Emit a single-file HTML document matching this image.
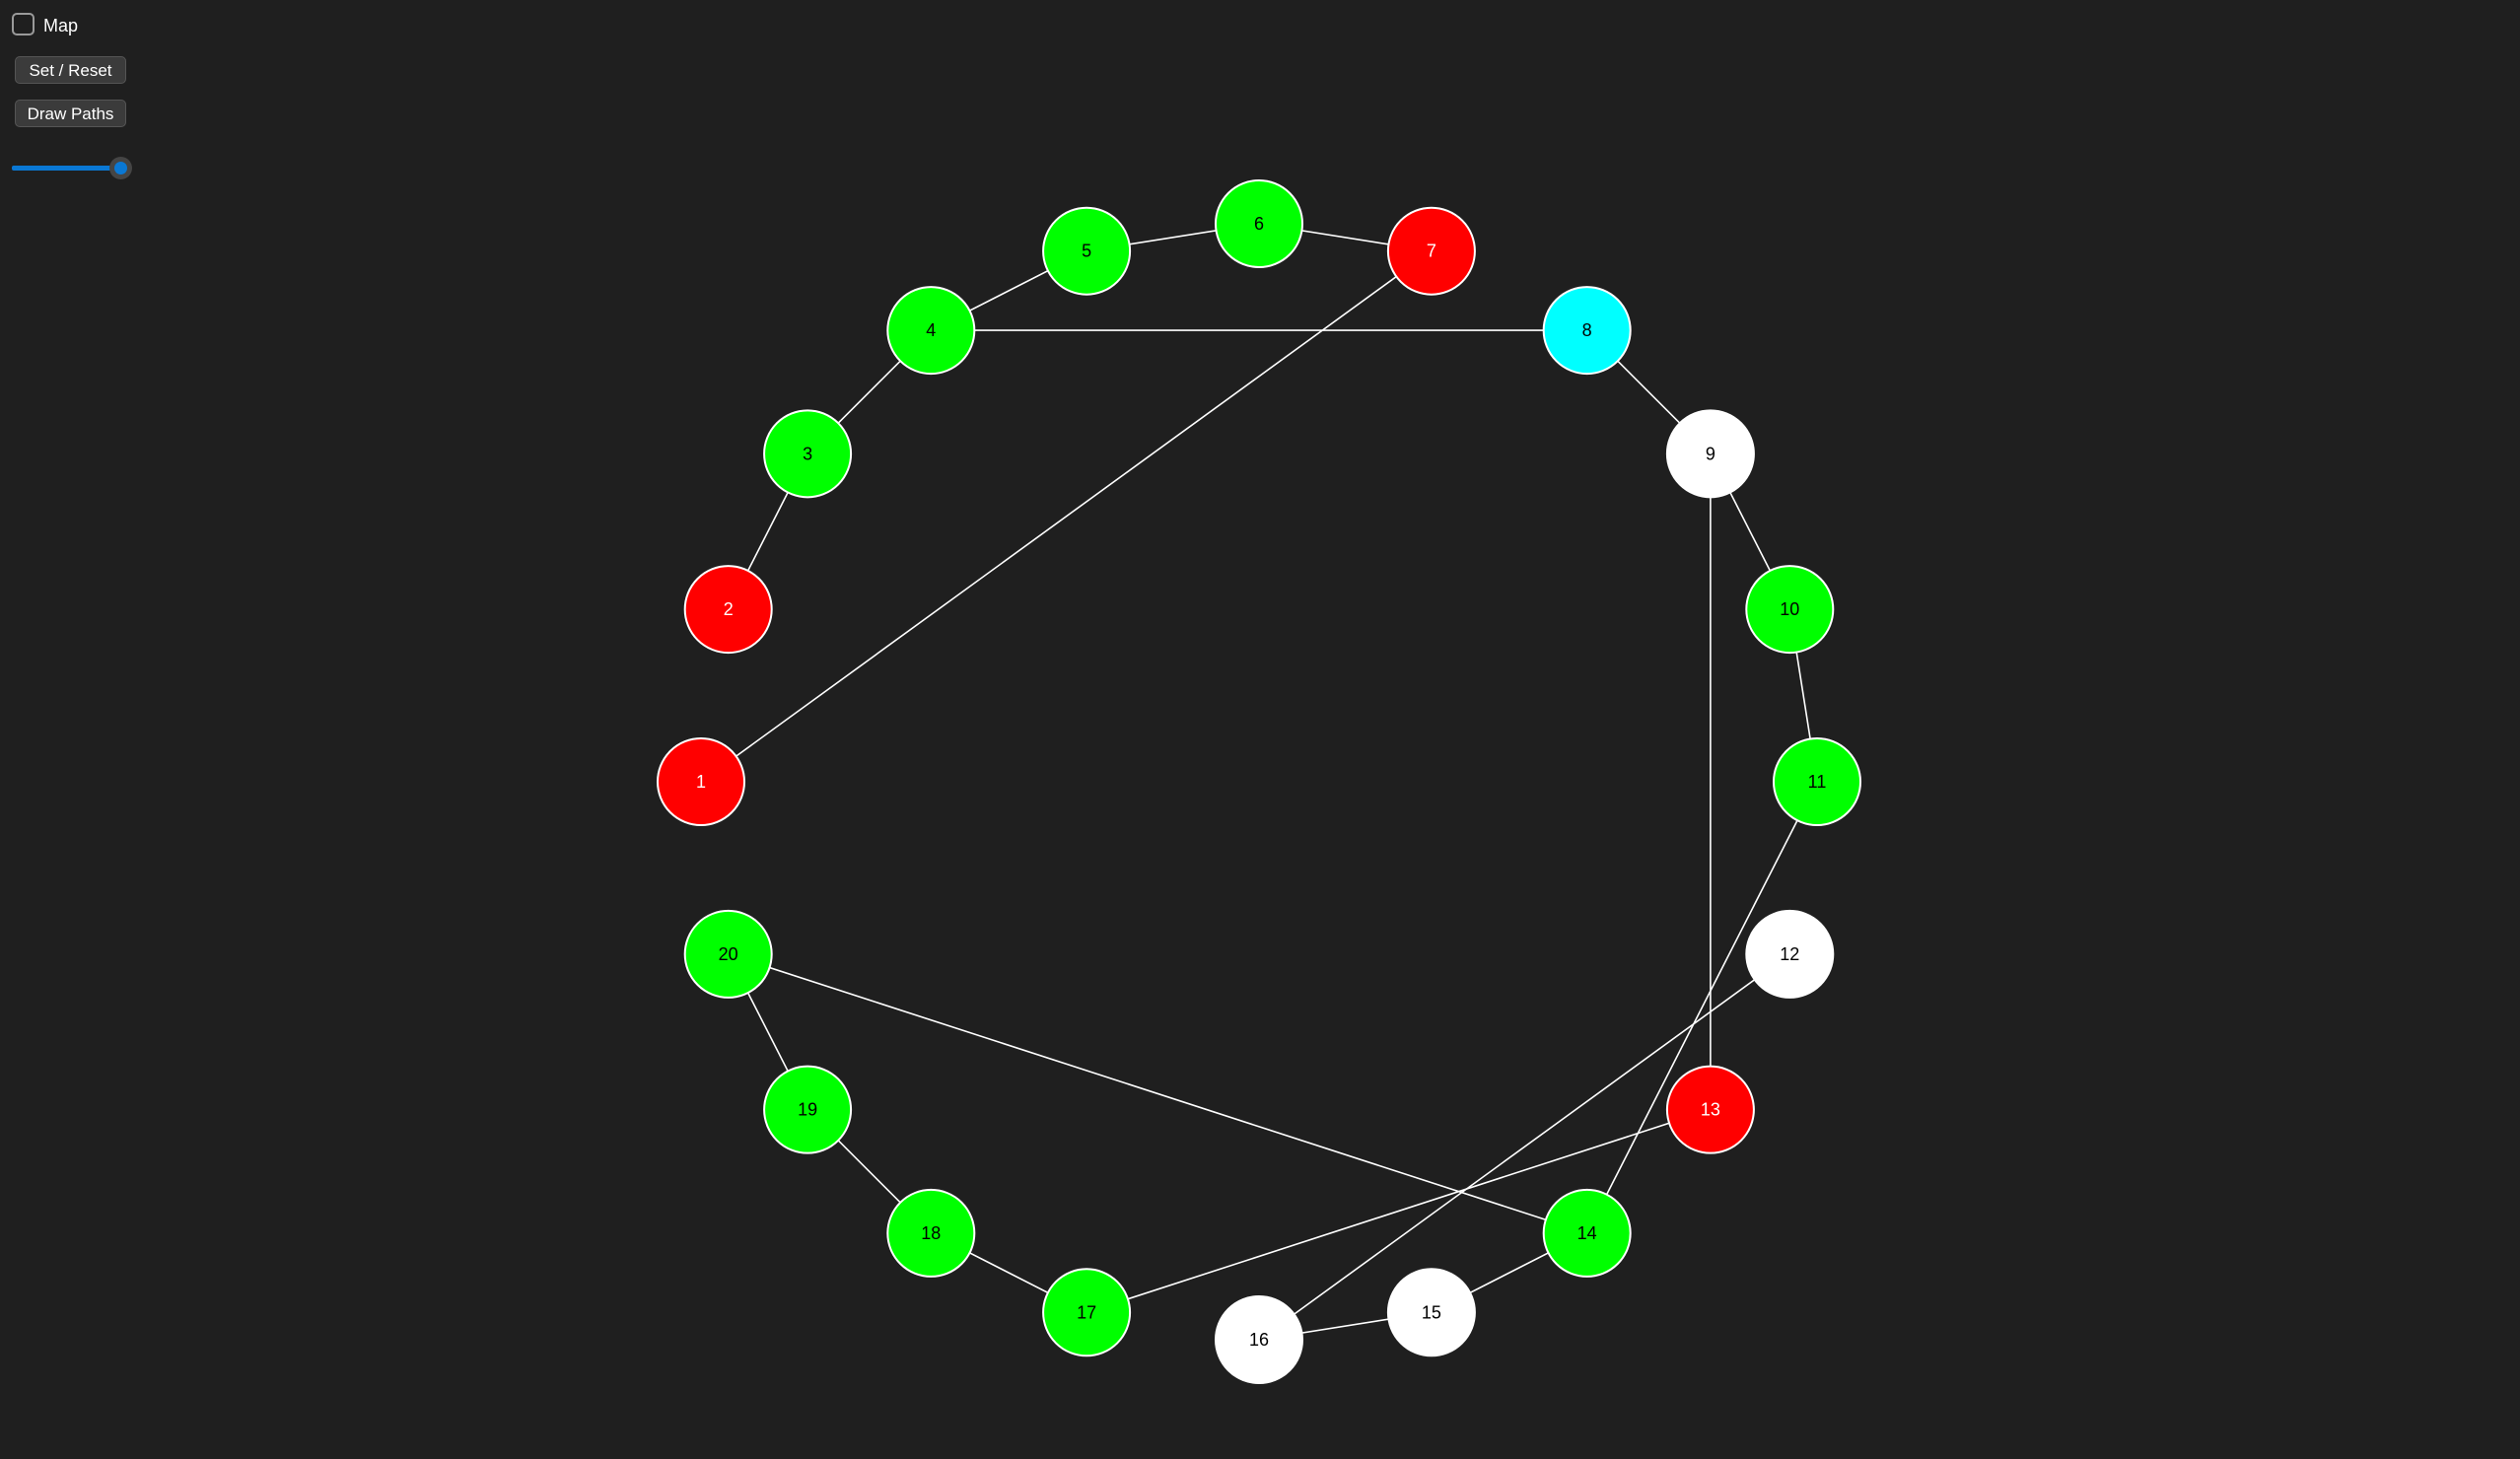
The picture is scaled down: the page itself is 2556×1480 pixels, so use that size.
<!DOCTYPE html>
<html><head><meta charset="utf-8"><style>
html,body{margin:0;padding:0;background:#1f1f1f;width:2556px;height:1480px;overflow:hidden;font-family:"Liberation Sans",sans-serif}
.btn{position:absolute;left:15px;width:113px;height:28px;background:#3b3b3b;border:1px solid #555;border-radius:5px;color:#fff;font-size:17px;line-height:28px;text-align:center;box-sizing:border-box}
</style></head><body>
<div style="position:absolute;left:12px;top:13px;width:23px;height:23px;border:2px solid #9a9a9a;border-radius:5px;box-sizing:border-box"></div>
<div style="position:absolute;left:44px;top:16px;color:#fff;font-size:18px">Map</div>
<div class="btn" style="top:57px">Set / Reset</div>
<div class="btn" style="top:101px">Draw Paths</div>
<div style="position:absolute;left:12px;top:160px;width:125px;height:22px">
  <div style="position:absolute;left:0;top:8px;width:110px;height:5px;background:#0a78d4;border-radius:2px"></div>
  <div style="position:absolute;left:99px;top:-1px;width:23px;height:23px;border-radius:50%;background:#454545"></div>
  <div style="position:absolute;left:104px;top:4px;width:13px;height:13px;border-radius:50%;background:#0a78d4"></div>
</div>
<svg id="g" width="2556" height="1480" style="position:absolute;left:0;top:0"></svg>
<script>
const nodeIds=[1,2,3,4,5,6,7,8,9,10,11,12,13,14,15,16,17,18,19,20];
const nodeColors=["red","red","green","green","green","green","red","cyan","white","green","green","white","red","green","white","white","green","green","green","green"];
const edges=[[1,7],[2,3],[3,4],[4,5],[5,6],[6,7],[4,8],[8,9],[9,10],[9,13],[10,11],[11,14],[12,16],[13,17],[14,15],[15,16],[14,20],[17,18],[18,19],[19,20]];
const cx=1277,cy=793,R=566,nr=44;
const fill={red:"#ff0000",green:"#00ff00",cyan:"#00ffff",white:"#ffffff"};
function pos(id){const a=(180+18*(id-1))*Math.PI/180;return [cx+R*Math.cos(a),cy+R*Math.sin(a)];}
const svg=document.getElementById('g');const NS="http://www.w3.org/2000/svg";
edges.forEach(e=>{const [x1,y1]=pos(e[0]),[x2,y2]=pos(e[1]);const l=document.createElementNS(NS,'line');
l.setAttribute('x1',x1);l.setAttribute('y1',y1);l.setAttribute('x2',x2);l.setAttribute('y2',y2);
l.setAttribute('stroke','#fff');l.setAttribute('stroke-width','1.6');


svg.appendChild(l);});
nodeIds.forEach((id,i)=>{const [x,y]=pos(id);const g=document.createElementNS(NS,'g');


const c=document.createElementNS(NS,'circle');c.setAttribute('cx',x);c.setAttribute('cy',y);c.setAttribute('r',nr);
c.setAttribute('fill',fill[nodeColors[i]]);c.setAttribute('stroke','#fff');c.setAttribute('stroke-width','2');g.appendChild(c);
const t=document.createElementNS(NS,'text');t.setAttribute('x',x);t.setAttribute('y',y+6);t.setAttribute('text-anchor','middle');
t.setAttribute('font-size','18');t.setAttribute('font-family','Liberation Sans, sans-serif');
t.setAttribute('fill',nodeColors[i]==='red'?'#fff':'#000');t.textContent=id;g.appendChild(t);svg.appendChild(g);});
</script>
</body></html>
